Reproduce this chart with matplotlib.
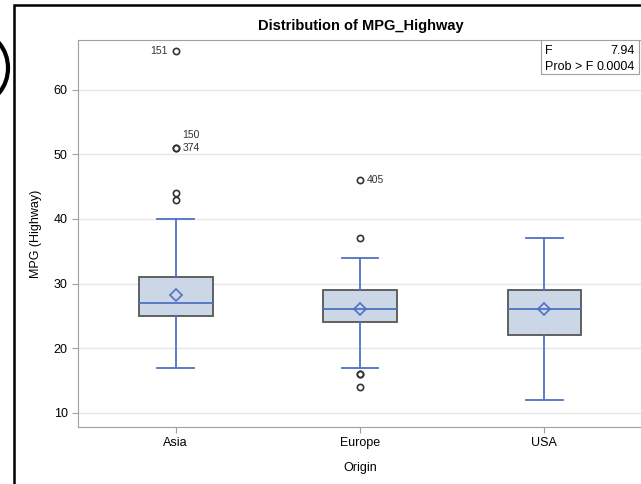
import matplotlib
matplotlib.use("Agg")
import matplotlib.pyplot as plt
from matplotlib.patches import Rectangle, Ellipse

plt.rcParams['font.family'] = ['Liberation Sans', 'DejaVu Sans']

# box stats
origins = ['Asia', 'Europe', 'USA']
q1 = [25, 24, 22]
med = [27, 26, 26]
q3 = [31, 29, 29]
whislo = [17, 17, 12]
whishi = [40, 34, 37]
means = [28.3, 26.0, 26.0]
fliers = [[43, 44, 51, 51, 66], [37, 46, 16, 16, 14], []]

# labelled outliers: (group index, value, label, dx px, dy px, align)
flier_labels = [(0, 66, '151', -8, 0, 'right'),
                (0, 51, '374', 7, 0, 'left'),
                (0, 51, '150', 7, 13, 'left'),
                (1, 46, '405', 7, 0, 'left')]

f_value = '7.94'
p_value = '0.0004'

blue = '#4f72c4'
fill = '#cbd6e6'
edge = '#555555'

fig = plt.figure(figsize=(6.41, 4.84), dpi=100)
ax = fig.add_axes([78 / 641, 1 - 427 / 484, 565 / 641, 387 / 484])

stats = []
for i in range(len(origins)):
    stats.append(dict(q1=q1[i], med=med[i], q3=q3[i], whislo=whislo[i],
                      whishi=whishi[i], mean=means[i], fliers=fliers[i],
                      label=origins[i]))

ax.bxp(stats, positions=range(len(origins)), widths=0.4, patch_artist=True,
       showmeans=True, showfliers=True,
       boxprops=dict(facecolor=fill, edgecolor=edge, linewidth=1.3),
       medianprops=dict(color=blue, linewidth=1.3),
       whiskerprops=dict(color=blue, linewidth=1.3),
       capprops=dict(color=blue, linewidth=1.3),
       capwidths=0.2,
       meanprops=dict(marker='D', markerfacecolor='none', markeredgecolor=blue,
                      markersize=6.5, markeredgewidth=1.2),
       flierprops=dict(marker='o', markerfacecolor='none', markeredgecolor='#333333',
                       markersize=4.5, markeredgewidth=1.2))

for gi, val, lab, dx, dy, ha in flier_labels:
    ax.annotate(lab, (gi, val), xytext=(dx, dy), textcoords='offset pixels',
                ha=ha, va='center', fontsize=7.5, color='#333333')

ax.set_xlim(-0.53, 2.535)
ax.set_ylim(7.8, 67.7)
ax.set_yticks([10, 20, 30, 40, 50, 60])
ax.yaxis.grid(True, color='#e6e6e6', linewidth=1)
ax.set_axisbelow(True)
for s in ax.spines.values():
    s.set_color('#a0a0a0')
ax.tick_params(colors='#a0a0a0', labelcolor='black', labelsize=9, length=4)

ax.set_xlabel('Origin', fontsize=9, labelpad=9)
ax.set_ylabel('MPG (Highway)', fontsize=9, labelpad=8)
ax.set_title('Distribution of MPG_Highway', fontsize=10.5, fontweight='bold', pad=7)

# F statistic inset
ax.add_patch(Rectangle((541 / 641, 1 - 74 / 484), 98 / 641, 34 / 484,
                       transform=fig.transFigure, facecolor='white',
                       edgecolor='#a0a0a0', linewidth=0.8, zorder=5))
fig.text(545 / 641, 1 - 51 / 484, 'F', fontsize=9, va='center', zorder=6)
fig.text(635 / 641, 1 - 51 / 484, f_value, fontsize=9, va='center', ha='right', zorder=6)
fig.text(545 / 641, 1 - 67 / 484, 'Prob > F', fontsize=9, va='center', zorder=6)
fig.text(635 / 641, 1 - 67 / 484, p_value, fontsize=9, va='center', ha='right', zorder=6)

# outer frame and the stray circle on the left edge
fig.patches.append(Rectangle((13.5 / 641, -0.1), 1.2, 1 - 4.5 / 484 + 0.1,
                             transform=fig.transFigure, fill=False,
                             edgecolor='black', linewidth=1.8))
fig.patches.append(Ellipse((-22 / 641, 1 - 68 / 484), 60 / 641, 70 / 484,
                           transform=fig.transFigure, fill=False,
                           edgecolor='black', linewidth=3))

fig.savefig('out.png', dpi=100)
